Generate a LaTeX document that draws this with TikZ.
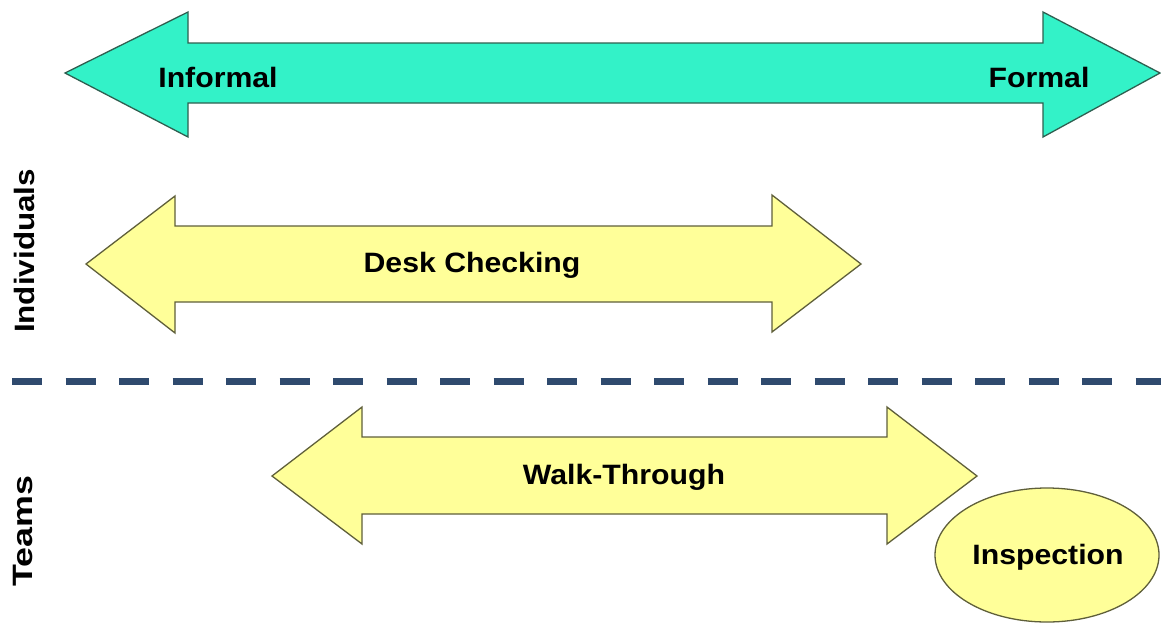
\documentclass[tikz,border=0pt]{standalone}
\usepackage{fontspec}
\setmainfont{Liberation Sans}
\definecolor{teal1}{HTML}{33F2C8}
\definecolor{tealedge}{HTML}{2F5F50}
\definecolor{yel}{HTML}{FFFF99}
\definecolor{yeledge}{HTML}{5F5F3A}
\definecolor{dashc}{HTML}{2F4A6E}
\newcommand{\wtxt}[2]{\scalebox{#1}[1]{#2}}
\tikzset{
  lbl/.style={font=\bfseries\fontsize{28}{32}\selectfont, text=black, inner sep=0pt},
  tealarrow/.style={fill=teal1, draw=tealedge, line width=1.3pt, line join=miter},
  yelarrow/.style={fill=yel, draw=yeledge, line width=1.3pt, line join=miter},
}
\begin{document}
\begin{tikzpicture}[x=1pt,y=-1pt]
\useasboundingbox (0,0) rectangle (1161,624);
% top double arrow
\draw[tealarrow] (65,73) -- (188,12) -- (188,43) -- (1043,43) -- (1043,12) -- (1160,73)
  -- (1043,137) -- (1043,103) -- (188,103) -- (188,137) -- cycle;
\node[lbl] (informal) at (218,77) {\wtxt{1.08}{Informal}};
\node[lbl] (formal) at (1039,77) {\wtxt{1.08}{Formal}};
% desk checking
\draw[yelarrow] (86,264) -- (175,196) -- (175,226) -- (772,226) -- (772,195) -- (861,264)
  -- (772,332) -- (772,302) -- (175,302) -- (175,333) -- cycle;
\node[lbl] (desk) at (472,265) {\wtxt{1.08}{Desk Checking}};
% separator
\draw[dashc, line width=7pt, dash pattern=on 30pt off 23.5pt] (12,381) -- (1161,381);
% walk-through
\draw[yelarrow] (272,476) -- (362,407) -- (362,437) -- (887,437) -- (887,407) -- (977,476)
  -- (887,544) -- (887,514) -- (362,514) -- (362,544) -- cycle;
\node[lbl] (walk) at (624,477) {\wtxt{1.08}{Walk-Through}};
% inspection
\draw[yelarrow] (1047,555) ellipse [x radius=112, y radius=67];
\node[lbl] (insp) at (1048,557) {\wtxt{1.08}{Inspection}};
% side labels
\node[lbl, rotate=90] (indiv) at (24,251) {\wtxt{1.12}{Individuals}};
\node[lbl, rotate=90] (teams) at (23,531) {\wtxt{1.28}{Teams}};
\end{tikzpicture}
\end{document}
